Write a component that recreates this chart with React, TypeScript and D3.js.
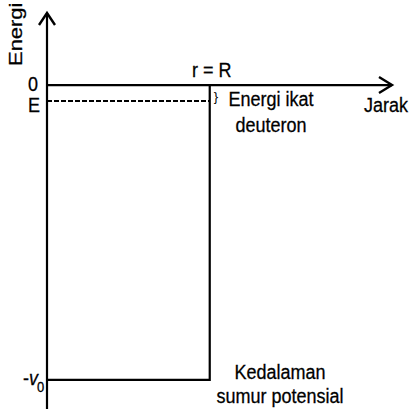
import React from "react";
import * as d3 from "d3";

const W = 410;
const H = 409;

// Energy levels (MeV-like units)
const levelLabels = ["0", "E", "-V0"];
const levelValues = [0, -2.2, -40.5];
const wellRadius = [1]; // r = R
const xDomain = [0, 2.12];
const yDomain = [9.9, -44.5];

const FONT = "'Liberation Sans', Arial, sans-serif";
const SY = 1.14;

function T({
  x,
  y,
  size = 18,
  anchor = "start",
  children,
}: {
  x: number;
  y: number;
  size?: number;
  anchor?: string;
  children: React.ReactNode;
}) {
  return (
    <text
      transform={`translate(${x},${y}) scale(1,${SY})`}
      fontSize={size}
      textAnchor={anchor}
      fill="#000"
      stroke="#000"
      strokeWidth={0.25}
    >
      {children}
    </text>
  );
}

export default function App() {
  const x = d3.scaleLinear().domain(xDomain).range([47, 392]);
  const y = d3.scaleLinear().domain(yDomain).range([13, 409]);

  const x0 = x(0);
  const xR = x(wellRadius[0]);
  const xEnd = x(xDomain[1]);
  const y0 = y(levelValues[0]);
  const yE = y(levelValues[1]);
  const yV = y(levelValues[2]);
  const yTop = y(yDomain[0]);
  const yBot = y(yDomain[1]);

  const line = d3.line<[number, number]>();

  const wellPath = line([
    [x0, yV],
    [xR, yV],
    [xR, y0],
  ]);

  return (
    <svg
      width={W}
      height={H}
      style={{ position: "absolute", left: 0, top: 0, background: "#fff" }}
      fontFamily={FONT}
    >
      <rect x={0} y={0} width={W} height={H} fill="#fff" />
      {/* y axis */}
      <path d={line([[x0, yBot], [x0, yTop]]) || ""} stroke="#000" strokeWidth={2.2} fill="none" />
      <path
        d={line([[x0 - 8, yTop + 12], [x0, yTop], [x0 + 8, yTop + 12]]) || ""}
        stroke="#000"
        strokeWidth={2.4}
        fill="none"
      />
      {/* x axis */}
      <path d={line([[x0, y0], [xEnd, y0]]) || ""} stroke="#000" strokeWidth={2.2} fill="none" />
      <path
        d={line([[xEnd - 13, y0 - 8], [xEnd, y0], [xEnd - 13, y0 + 8]]) || ""}
        stroke="#000"
        strokeWidth={2.4}
        fill="none"
      />
      {/* well */}
      <path d={wellPath || ""} stroke="#000" strokeWidth={2.2} fill="none" />
      {/* binding energy dashed */}
      <path
        d={line([[x0, yE], [xR, yE]]) || ""}
        stroke="#000"
        strokeWidth={2}
        strokeDasharray="5,2"
        fill="none"
      />

      {/* labels */}
      <text
        transform={`translate(22, 66) rotate(-90) scale(1.22,1)`}
        fontSize={18}
        fill="#000"
        stroke="#000"
        strokeWidth={0.25}
      >
        Energi
      </text>
      <T x={x0 - 9} y={y0 + 6} anchor="end">
        {levelLabels[0]}
      </T>
      <T x={x0 - 7} y={yE + 11} anchor="end">
        {levelLabels[1]}
      </T>
      <T x={x0 - 9} y={yV + 5} anchor="end">
        <tspan>-</tspan>
        <tspan fontStyle="italic">v</tspan>
      </T>
      <T x={x0 - 10} y={yV + 12} size={13}>
        0
      </T>

      <T x={xR + 2} y={y0 - 8} anchor="middle">
        r = R
      </T>
      <text x={xR + 4} y={yE} fontSize={13} fill="#000">
        {"}"}
      </text>
      <T x={271} y={106} anchor="middle">
        Energi ikat
      </T>
      <T x={271} y={132} anchor="middle">
        deuteron
      </T>
      <T x={408} y={112} anchor="end">
        Jarak
      </T>
      <T x={280} y={379} anchor="middle">
        Kedalaman
      </T>
      <T x={280} y={403} anchor="middle">
        sumur potensial
      </T>
    </svg>
  );
}
